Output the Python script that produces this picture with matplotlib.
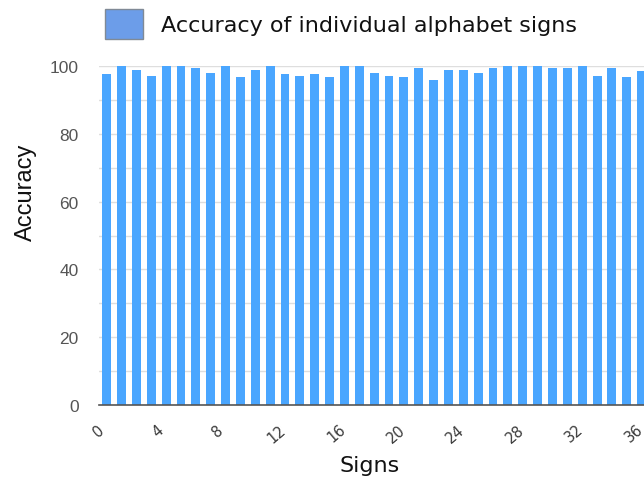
import matplotlib
matplotlib.use("Agg")
import matplotlib.pyplot as plt
from matplotlib.patches import Patch
from matplotlib.transforms import ScaledTranslation
import numpy as np

# accuracy per alphabet sign
signs = list(range(37))
accuracy = [
    97.7, 100, 99.0, 97.2, 100, 100, 99.4, 98.1, 100, 96.9,
    99.0, 100, 97.7, 97.2, 97.7, 96.9, 100, 100, 98.0, 97.2,
    96.9, 99.4, 96.0, 99.0, 99.0, 98.0, 99.4, 100, 100, 100,
    99.4, 99.4, 100, 97.2, 99.4, 96.9, 98.5,
]
xtick_vals = list(range(0, 37, 4))
ytick_vals = [0, 20, 40, 60, 80, 100]
legend_label = "Accuracy of individual alphabet signs"

W, H = 644, 481
fig = plt.figure(figsize=(W / 100, H / 100), dpi=100)
ax = fig.add_axes([99 / W, 1 - 405.7 / H, 545 / W, (405.7 - 67.3) / H])

ax.bar(signs, accuracy, width=0.6, color="#4aa6ff", zorder=2)

ax.set_xlim(-0.52, 36.16)
ax.set_ylim(0, 100)

# light horizontal grid every 10
for y in range(10, 101, 10):
    ax.axhline(y, color="#dedede", lw=1, zorder=1)

ax.set_yticks(ytick_vals)
ax.set_yticklabels([str(v) for v in ytick_vals], family="Liberation Sans",
                   fontsize=12.5, color="#555555")
ax.set_xticks(xtick_vals)
ax.set_xticklabels([str(v) for v in xtick_vals], rotation=40, ha="center",
                   fontsize=10.5, color="#3a3a3a")
ax.tick_params(axis="both", length=0)
ax.tick_params(axis="y", pad=14.5)
ax.tick_params(axis="x", pad=12)

# rotated labels sit a little left of their ticks
shift = ScaledTranslation(-8 / 100, 0, fig.dpi_scale_trans)
for lbl in ax.get_xticklabels():
    lbl.set_transform(lbl.get_transform() + shift)

for s in ["top", "right", "left"]:
    ax.spines[s].set_visible(False)
ax.spines["bottom"].set_color("#555555")
ax.spines["bottom"].set_linewidth(1.2)
ax.spines["bottom"].set_zorder(3)

fig.text(26 / W, 1 - 192 / H, "Accuracy", rotation=90, ha="center", va="center",
         family="Liberation Sans", fontsize=17, color="#111111")
fig.text(370 / W, 1 - 466 / H, "Signs", ha="center", va="center",
         fontsize=16, color="#111111")

handle = Patch(facecolor="#6c9de9", edgecolor="#808a96", linewidth=1)
fig.legend([handle], [legend_label], loc="center", bbox_to_anchor=(341 / W, 1 - 25 / H),
           frameon=False, fontsize=16, handlelength=1.67, handleheight=1.7,
           handletextpad=0.81, labelcolor="#111111")

fig.savefig("out.png", dpi=100)
